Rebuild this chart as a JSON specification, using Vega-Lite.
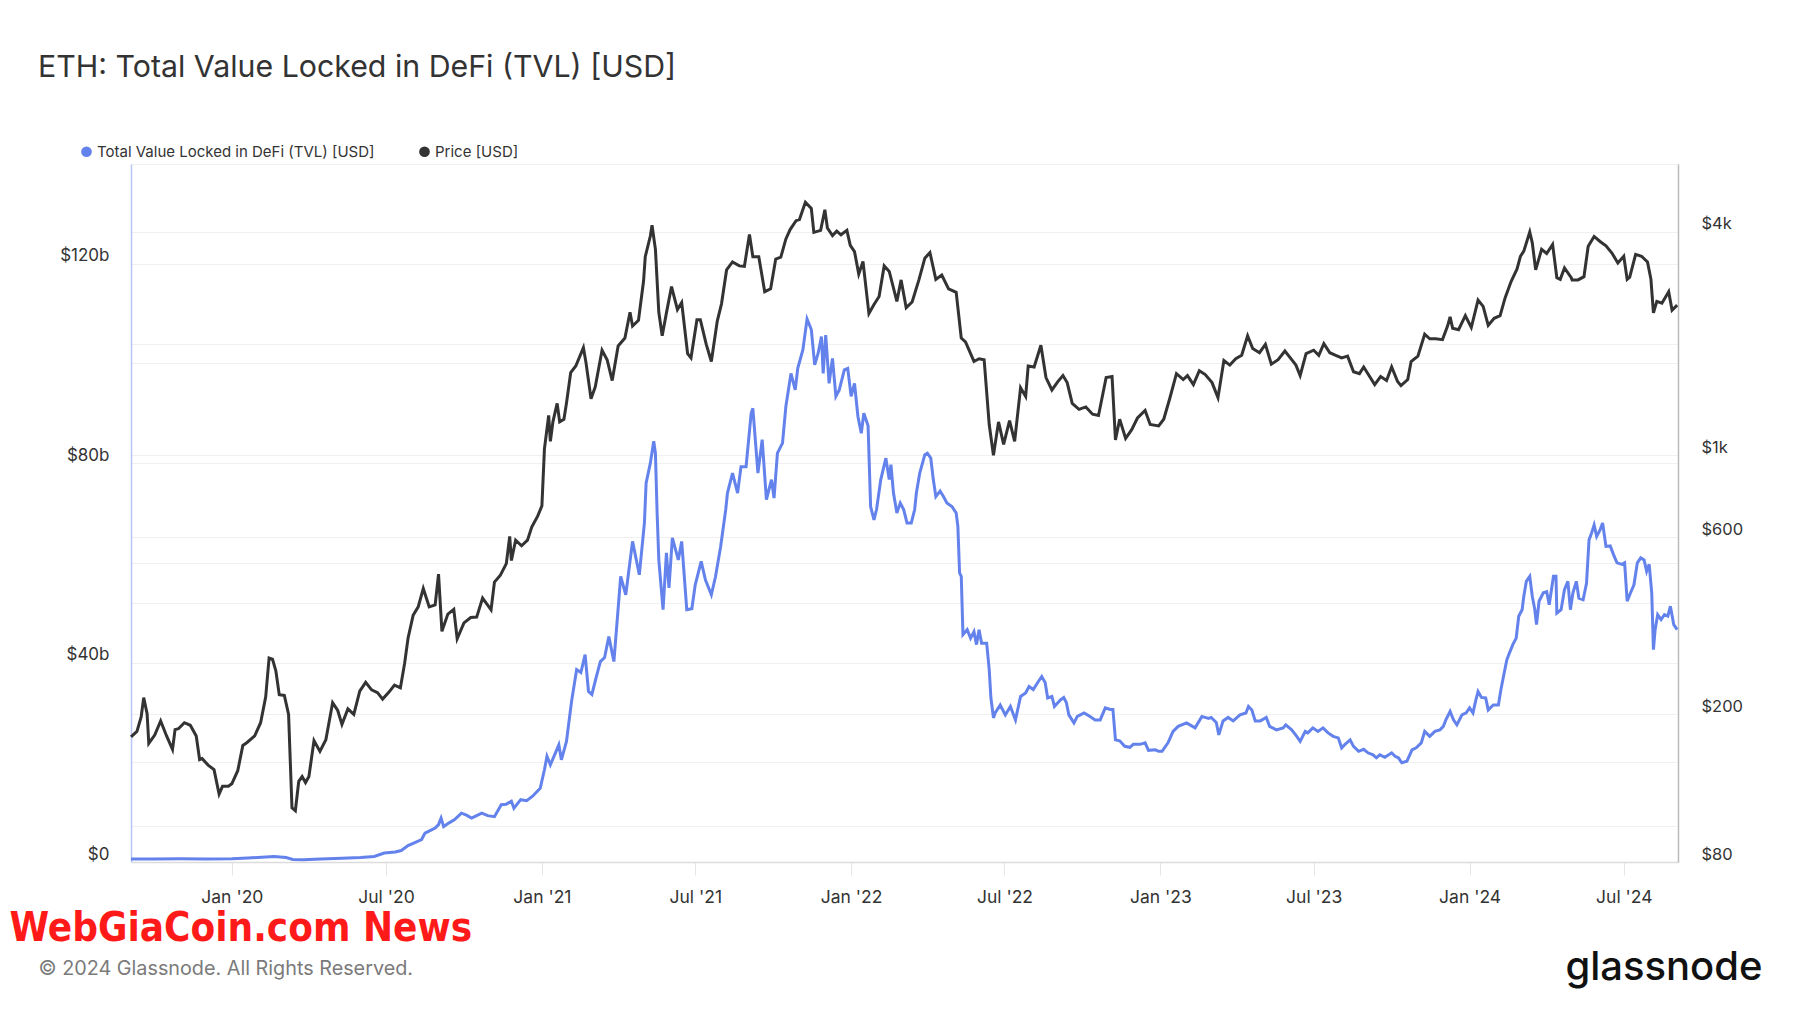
{
  "$schema": "https://vega.github.io/schema/vega-lite/v6.json",
  "width": 1547,
  "height": 698,
  "autosize": {"type": "none"},
  "padding": {"left": 131, "top": 164, "right": 122, "bottom": 151},
  "background": "white",
  "config": {"view": {"stroke": null}, "font": "Inter"},
  "title": {"text": "ETH: Total Value Locked in DeFi (TVL) [USD]", "anchor": "start", "frame": "group", "dx": -93, "offset": 61, "fontSize": 30.3, "font": "Inter", "fontWeight": "normal", "color": "#333333"},
  "datasets": {
    "tvl": [
      {"date":"2019-09-04","tvl":0.6},{"date":"2019-10-01","tvl":0.6},{"date":"2019-11-01","tvl":0.65},{"date":"2019-12-01","tvl":0.6},{"date":"2020-01-01","tvl":0.65},{"date":"2020-01-20","tvl":0.8},{"date":"2020-02-10","tvl":1.0},{"date":"2020-02-20","tvl":1.1},{"date":"2020-03-05","tvl":0.9},{"date":"2020-03-13","tvl":0.5},{"date":"2020-03-25","tvl":0.45},{"date":"2020-04-15","tvl":0.6},{"date":"2020-05-10","tvl":0.75},{"date":"2020-06-01","tvl":0.9},{"date":"2020-06-17","tvl":1.1},{"date":"2020-06-29","tvl":1.8},{"date":"2020-07-12","tvl":2.0},{"date":"2020-07-19","tvl":2.3},{"date":"2020-07-27","tvl":3.3},{"date":"2020-08-04","tvl":3.9},{"date":"2020-08-12","tvl":4.5},{"date":"2020-08-16","tvl":5.8},{"date":"2020-08-22","tvl":6.3},{"date":"2020-08-28","tvl":6.8},{"date":"2020-09-01","tvl":7.5},{"date":"2020-09-04","tvl":8.8},{"date":"2020-09-07","tvl":7.1},{"date":"2020-09-14","tvl":7.9},{"date":"2020-09-20","tvl":8.5},{"date":"2020-09-28","tvl":9.8},{"date":"2020-10-04","tvl":9.4},{"date":"2020-10-10","tvl":8.8},{"date":"2020-10-16","tvl":9.3},{"date":"2020-10-22","tvl":9.8},{"date":"2020-10-29","tvl":9.3},{"date":"2020-11-06","tvl":9.1},{"date":"2020-11-14","tvl":11.5},{"date":"2020-11-20","tvl":11.6},{"date":"2020-11-26","tvl":12.2},{"date":"2020-11-29","tvl":10.8},{"date":"2020-12-07","tvl":12.5},{"date":"2020-12-14","tvl":12.3},{"date":"2020-12-21","tvl":13.2},{"date":"2020-12-30","tvl":14.8},{"date":"2021-01-04","tvl":18.5},{"date":"2021-01-07","tvl":21.2},{"date":"2021-01-11","tvl":19.5},{"date":"2021-01-16","tvl":21.5},{"date":"2021-01-21","tvl":23.5},{"date":"2021-01-24","tvl":20.5},{"date":"2021-01-30","tvl":24.2},{"date":"2021-02-05","tvl":32.2},{"date":"2021-02-11","tvl":38.6},{"date":"2021-02-16","tvl":38.0},{"date":"2021-02-21","tvl":41.6},{"date":"2021-02-25","tvl":34.2},{"date":"2021-03-01","tvl":33.6},{"date":"2021-03-06","tvl":37},{"date":"2021-03-11","tvl":40.2},{"date":"2021-03-16","tvl":41},{"date":"2021-03-21","tvl":45.2},{"date":"2021-03-27","tvl":40.2},{"date":"2021-04-04","tvl":57.3},{"date":"2021-04-10","tvl":53.6},{"date":"2021-04-18","tvl":64.3},{"date":"2021-04-26","tvl":57.6},{"date":"2021-05-02","tvl":68},{"date":"2021-05-04","tvl":76},{"date":"2021-05-09","tvl":80},{"date":"2021-05-13","tvl":84.4},{"date":"2021-05-15","tvl":82},{"date":"2021-05-17","tvl":70},{"date":"2021-05-19","tvl":60.6},{"date":"2021-05-24","tvl":50.6},{"date":"2021-05-28","tvl":62},{"date":"2021-05-31","tvl":55},{"date":"2021-06-04","tvl":65},{"date":"2021-06-11","tvl":60.6},{"date":"2021-06-15","tvl":64.3},{"date":"2021-06-21","tvl":50.6},{"date":"2021-06-27","tvl":50.8},{"date":"2021-07-01","tvl":55.6},{"date":"2021-07-08","tvl":60.3},{"date":"2021-07-13","tvl":56.6},{"date":"2021-07-20","tvl":53.6},{"date":"2021-07-25","tvl":57.3},{"date":"2021-07-31","tvl":63.3},{"date":"2021-08-06","tvl":70.7},{"date":"2021-08-08","tvl":74},{"date":"2021-08-14","tvl":78},{"date":"2021-08-20","tvl":74},{"date":"2021-08-24","tvl":79.3},{"date":"2021-08-30","tvl":79.3},{"date":"2021-09-05","tvl":90},{"date":"2021-09-07","tvl":91},{"date":"2021-09-13","tvl":78},{"date":"2021-09-18","tvl":84.7},{"date":"2021-09-23","tvl":72.7},{"date":"2021-09-29","tvl":76.7},{"date":"2021-10-02","tvl":73},{"date":"2021-10-06","tvl":82},{"date":"2021-10-12","tvl":84},{"date":"2021-10-16","tvl":91.4},{"date":"2021-10-22","tvl":98},{"date":"2021-10-27","tvl":94.7},{"date":"2021-10-30","tvl":99},{"date":"2021-11-05","tvl":102.7},{"date":"2021-11-10","tvl":108.9},{"date":"2021-11-15","tvl":106.8},{"date":"2021-11-19","tvl":99.7},{"date":"2021-11-23","tvl":102},{"date":"2021-11-27","tvl":105.4},{"date":"2021-11-29","tvl":98},{"date":"2021-12-02","tvl":105.7},{"date":"2021-12-06","tvl":96},{"date":"2021-12-10","tvl":101},{"date":"2021-12-14","tvl":93.4},{"date":"2021-12-18","tvl":94.7},{"date":"2021-12-24","tvl":98.7},{"date":"2021-12-28","tvl":99},{"date":"2022-01-01","tvl":93.4},{"date":"2022-01-05","tvl":96},{"date":"2022-01-09","tvl":89.4},{"date":"2022-01-13","tvl":86},{"date":"2022-01-16","tvl":90},{"date":"2022-01-21","tvl":87.5},{"date":"2022-01-24","tvl":71.3},{"date":"2022-01-28","tvl":68.6},{"date":"2022-01-31","tvl":70.7},{"date":"2022-02-05","tvl":76.7},{"date":"2022-02-11","tvl":81},{"date":"2022-02-15","tvl":76.7},{"date":"2022-02-17","tvl":79.7},{"date":"2022-02-20","tvl":74},{"date":"2022-02-24","tvl":70},{"date":"2022-02-28","tvl":72},{"date":"2022-03-04","tvl":70.7},{"date":"2022-03-08","tvl":68},{"date":"2022-03-13","tvl":68},{"date":"2022-03-17","tvl":70.7},{"date":"2022-03-19","tvl":74},{"date":"2022-03-23","tvl":78},{"date":"2022-03-29","tvl":81.7},{"date":"2022-04-01","tvl":82},{"date":"2022-04-05","tvl":81},{"date":"2022-04-08","tvl":76.7},{"date":"2022-04-11","tvl":73.3},{"date":"2022-04-16","tvl":74.4},{"date":"2022-04-20","tvl":73.3},{"date":"2022-04-24","tvl":72},{"date":"2022-04-30","tvl":71.3},{"date":"2022-05-05","tvl":70},{"date":"2022-05-07","tvl":67.3},{"date":"2022-05-09","tvl":58},{"date":"2022-05-11","tvl":57.3},{"date":"2022-05-13","tvl":45.6},{"date":"2022-05-18","tvl":46.6},{"date":"2022-05-22","tvl":44.9},{"date":"2022-05-26","tvl":46.2},{"date":"2022-05-29","tvl":43.6},{"date":"2022-06-01","tvl":46.6},{"date":"2022-06-04","tvl":43.9},{"date":"2022-06-10","tvl":43.9},{"date":"2022-06-13","tvl":38.6},{"date":"2022-06-15","tvl":32.9},{"date":"2022-06-18","tvl":28.9},{"date":"2022-06-20","tvl":29.9},{"date":"2022-06-26","tvl":31.5},{"date":"2022-07-02","tvl":29.5},{"date":"2022-07-08","tvl":31.2},{"date":"2022-07-14","tvl":28.5},{"date":"2022-07-20","tvl":33.2},{"date":"2022-07-26","tvl":33.9},{"date":"2022-07-30","tvl":35.2},{"date":"2022-08-04","tvl":34.6},{"date":"2022-08-10","tvl":36.2},{"date":"2022-08-14","tvl":37.2},{"date":"2022-08-18","tvl":36},{"date":"2022-08-21","tvl":32.9},{"date":"2022-08-26","tvl":33.2},{"date":"2022-08-29","tvl":31.2},{"date":"2022-09-05","tvl":32.5},{"date":"2022-09-09","tvl":33},{"date":"2022-09-12","tvl":32},{"date":"2022-09-15","tvl":29.5},{"date":"2022-09-21","tvl":27.9},{"date":"2022-09-25","tvl":29.2},{"date":"2022-10-03","tvl":29.9},{"date":"2022-10-10","tvl":29.2},{"date":"2022-10-16","tvl":28.5},{"date":"2022-10-22","tvl":28.5},{"date":"2022-10-28","tvl":30.9},{"date":"2022-11-03","tvl":30.6},{"date":"2022-11-06","tvl":30.6},{"date":"2022-11-09","tvl":24.5},{"date":"2022-11-14","tvl":24.3},{"date":"2022-11-20","tvl":23.2},{"date":"2022-11-26","tvl":23},{"date":"2022-11-30","tvl":23.6},{"date":"2022-12-08","tvl":23.6},{"date":"2022-12-14","tvl":23.9},{"date":"2022-12-18","tvl":22.4},{"date":"2022-12-26","tvl":22.5},{"date":"2022-12-30","tvl":22.2},{"date":"2023-01-03","tvl":22.2},{"date":"2023-01-10","tvl":23.9},{"date":"2023-01-16","tvl":26.2},{"date":"2023-01-22","tvl":27.2},{"date":"2023-02-01","tvl":27.9},{"date":"2023-02-11","tvl":26.9},{"date":"2023-02-19","tvl":29.2},{"date":"2023-02-27","tvl":28.8},{"date":"2023-03-02","tvl":29},{"date":"2023-03-08","tvl":28},{"date":"2023-03-11","tvl":25.5},{"date":"2023-03-16","tvl":28.3},{"date":"2023-03-22","tvl":29},{"date":"2023-03-28","tvl":28.3},{"date":"2023-04-05","tvl":29.5},{"date":"2023-04-12","tvl":29.9},{"date":"2023-04-15","tvl":31.2},{"date":"2023-04-19","tvl":30.5},{"date":"2023-04-23","tvl":28.3},{"date":"2023-04-29","tvl":28.3},{"date":"2023-05-06","tvl":29},{"date":"2023-05-10","tvl":27.2},{"date":"2023-05-18","tvl":26.5},{"date":"2023-05-26","tvl":26.9},{"date":"2023-05-29","tvl":27.5},{"date":"2023-06-05","tvl":26.5},{"date":"2023-06-11","tvl":25.2},{"date":"2023-06-15","tvl":24.2},{"date":"2023-06-21","tvl":26.2},{"date":"2023-06-24","tvl":25.9},{"date":"2023-06-30","tvl":26.9},{"date":"2023-07-06","tvl":26.2},{"date":"2023-07-12","tvl":26.9},{"date":"2023-07-18","tvl":25.9},{"date":"2023-07-24","tvl":25.2},{"date":"2023-07-30","tvl":24.9},{"date":"2023-08-03","tvl":22.9},{"date":"2023-08-07","tvl":23.6},{"date":"2023-08-13","tvl":24.5},{"date":"2023-08-17","tvl":23.2},{"date":"2023-08-23","tvl":22.2},{"date":"2023-08-29","tvl":22.6},{"date":"2023-09-03","tvl":21.9},{"date":"2023-09-09","tvl":21.5},{"date":"2023-09-13","tvl":20.9},{"date":"2023-09-17","tvl":21.5},{"date":"2023-09-23","tvl":21},{"date":"2023-10-01","tvl":21.9},{"date":"2023-10-05","tvl":21.2},{"date":"2023-10-09","tvl":20.9},{"date":"2023-10-13","tvl":19.9},{"date":"2023-10-19","tvl":20.2},{"date":"2023-10-25","tvl":22.5},{"date":"2023-10-30","tvl":22.9},{"date":"2023-11-05","tvl":23.9},{"date":"2023-11-09","tvl":26.2},{"date":"2023-11-15","tvl":25.2},{"date":"2023-11-21","tvl":26.2},{"date":"2023-11-27","tvl":26.5},{"date":"2023-12-01","tvl":27.2},{"date":"2023-12-04","tvl":28.5},{"date":"2023-12-09","tvl":30.2},{"date":"2023-12-13","tvl":28.5},{"date":"2023-12-17","tvl":27.5},{"date":"2023-12-23","tvl":29.5},{"date":"2023-12-28","tvl":29.9},{"date":"2024-01-01","tvl":30.9},{"date":"2024-01-05","tvl":29.9},{"date":"2024-01-08","tvl":32.2},{"date":"2024-01-11","tvl":34.2},{"date":"2024-01-15","tvl":33},{"date":"2024-01-20","tvl":32.9},{"date":"2024-01-23","tvl":30.5},{"date":"2024-01-29","tvl":31.5},{"date":"2024-02-04","tvl":31.5},{"date":"2024-02-07","tvl":34.6},{"date":"2024-02-10","tvl":37.2},{"date":"2024-02-14","tvl":40.6},{"date":"2024-02-17","tvl":41.9},{"date":"2024-02-21","tvl":43.6},{"date":"2024-02-25","tvl":44.9},{"date":"2024-02-28","tvl":49.3},{"date":"2024-03-03","tvl":50.6},{"date":"2024-03-05","tvl":53.3},{"date":"2024-03-08","tvl":56.3},{"date":"2024-03-12","tvl":57.3},{"date":"2024-03-15","tvl":53.3},{"date":"2024-03-18","tvl":50.6},{"date":"2024-03-20","tvl":47.6},{"date":"2024-03-23","tvl":52.3},{"date":"2024-03-28","tvl":54},{"date":"2024-04-01","tvl":54.2},{"date":"2024-04-04","tvl":51.6},{"date":"2024-04-09","tvl":57.3},{"date":"2024-04-12","tvl":57.3},{"date":"2024-04-13","tvl":49.9},{"date":"2024-04-18","tvl":50.6},{"date":"2024-04-22","tvl":54.6},{"date":"2024-04-26","tvl":56.3},{"date":"2024-04-29","tvl":50.6},{"date":"2024-05-02","tvl":54},{"date":"2024-05-06","tvl":56.3},{"date":"2024-05-09","tvl":52.9},{"date":"2024-05-14","tvl":52.6},{"date":"2024-05-18","tvl":55.9},{"date":"2024-05-21","tvl":64.6},{"date":"2024-05-24","tvl":66},{"date":"2024-05-27","tvl":67.6},{"date":"2024-05-30","tvl":65.3},{"date":"2024-06-03","tvl":66.6},{"date":"2024-06-06","tvl":68},{"date":"2024-06-10","tvl":63.3},{"date":"2024-06-15","tvl":63.4},{"date":"2024-06-19","tvl":61.6},{"date":"2024-06-23","tvl":60},{"date":"2024-06-29","tvl":59.7},{"date":"2024-07-02","tvl":60},{"date":"2024-07-05","tvl":52.3},{"date":"2024-07-09","tvl":54},{"date":"2024-07-13","tvl":55.6},{"date":"2024-07-17","tvl":60},{"date":"2024-07-21","tvl":61},{"date":"2024-07-25","tvl":60.6},{"date":"2024-07-28","tvl":58.3},{"date":"2024-07-31","tvl":59.7},{"date":"2024-08-03","tvl":54},{"date":"2024-08-05","tvl":42.6},{"date":"2024-08-07","tvl":46.6},{"date":"2024-08-10","tvl":49.6},{"date":"2024-08-14","tvl":48.6},{"date":"2024-08-18","tvl":49.6},{"date":"2024-08-22","tvl":49.3},{"date":"2024-08-25","tvl":51.3},{"date":"2024-08-29","tvl":47.6},{"date":"2024-09-02","tvl":46.6}
    ],
    "price": [
      {"date":"2019-09-04","price":174},{"date":"2019-09-11","price":180},{"date":"2019-09-16","price":197},{"date":"2019-09-19","price":222},{"date":"2019-09-23","price":201},{"date":"2019-09-25","price":167},{"date":"2019-10-02","price":176},{"date":"2019-10-09","price":192},{"date":"2019-10-16","price":175},{"date":"2019-10-23","price":161},{"date":"2019-10-26","price":182},{"date":"2019-10-30","price":183},{"date":"2019-11-06","price":190},{"date":"2019-11-13","price":187},{"date":"2019-11-20","price":175},{"date":"2019-11-24","price":151},{"date":"2019-11-27","price":152},{"date":"2019-12-04","price":146},{"date":"2019-12-11","price":142},{"date":"2019-12-17","price":122},{"date":"2019-12-21","price":128},{"date":"2019-12-28","price":128},{"date":"2020-01-01","price":130},{"date":"2020-01-08","price":141},{"date":"2020-01-14","price":165},{"date":"2020-01-19","price":168},{"date":"2020-01-28","price":175},{"date":"2020-02-04","price":190},{"date":"2020-02-10","price":223},{"date":"2020-02-14","price":284},{"date":"2020-02-18","price":282},{"date":"2020-02-22","price":262},{"date":"2020-02-26","price":226},{"date":"2020-03-03","price":225},{"date":"2020-03-08","price":200},{"date":"2020-03-12","price":112},{"date":"2020-03-16","price":110},{"date":"2020-03-20","price":132},{"date":"2020-03-24","price":136},{"date":"2020-03-28","price":131},{"date":"2020-04-01","price":136},{"date":"2020-04-07","price":170},{"date":"2020-04-14","price":159},{"date":"2020-04-21","price":171},{"date":"2020-04-29","price":215},{"date":"2020-05-05","price":205},{"date":"2020-05-10","price":188},{"date":"2020-05-17","price":207},{"date":"2020-05-24","price":200},{"date":"2020-05-31","price":231},{"date":"2020-06-07","price":244},{"date":"2020-06-14","price":233},{"date":"2020-06-21","price":229},{"date":"2020-06-27","price":220},{"date":"2020-07-04","price":229},{"date":"2020-07-11","price":240},{"date":"2020-07-18","price":236},{"date":"2020-07-23","price":275},{"date":"2020-07-27","price":321},{"date":"2020-08-02","price":370},{"date":"2020-08-08","price":390},{"date":"2020-08-14","price":437},{"date":"2020-08-21","price":390},{"date":"2020-08-28","price":395},{"date":"2020-09-01","price":478},{"date":"2020-09-05","price":335},{"date":"2020-09-12","price":373},{"date":"2020-09-19","price":384},{"date":"2020-09-23","price":320},{"date":"2020-10-01","price":353},{"date":"2020-10-09","price":365},{"date":"2020-10-16","price":366},{"date":"2020-10-23","price":412},{"date":"2020-11-02","price":383},{"date":"2020-11-06","price":455},{"date":"2020-11-13","price":475},{"date":"2020-11-20","price":510},{"date":"2020-11-24","price":604},{"date":"2020-11-26","price":520},{"date":"2020-12-01","price":590},{"date":"2020-12-08","price":570},{"date":"2020-12-15","price":590},{"date":"2020-12-20","price":640},{"date":"2020-12-27","price":685},{"date":"2021-01-01","price":730},{"date":"2021-01-04","price":1040},{"date":"2021-01-09","price":1280},{"date":"2021-01-11","price":1090},{"date":"2021-01-14","price":1230},{"date":"2021-01-19","price":1380},{"date":"2021-01-22","price":1230},{"date":"2021-01-27","price":1250},{"date":"2021-01-30","price":1380},{"date":"2021-02-04","price":1670},{"date":"2021-02-10","price":1740},{"date":"2021-02-19","price":1950},{"date":"2021-02-22","price":1780},{"date":"2021-02-28","price":1420},{"date":"2021-03-05","price":1530},{"date":"2021-03-13","price":1920},{"date":"2021-03-19","price":1810},{"date":"2021-03-25","price":1590},{"date":"2021-04-01","price":1970},{"date":"2021-04-09","price":2070},{"date":"2021-04-15","price":2430},{"date":"2021-04-18","price":2230},{"date":"2021-04-25","price":2310},{"date":"2021-05-01","price":2950},{"date":"2021-05-03","price":3430},{"date":"2021-05-09","price":3900},{"date":"2021-05-11","price":4170},{"date":"2021-05-15","price":3590},{"date":"2021-05-19","price":2430},{"date":"2021-05-23","price":2100},{"date":"2021-05-28","price":2420},{"date":"2021-06-03","price":2850},{"date":"2021-06-10","price":2470},{"date":"2021-06-15","price":2580},{"date":"2021-06-22","price":1880},{"date":"2021-06-26","price":1830},{"date":"2021-07-03","price":2320},{"date":"2021-07-07","price":2320},{"date":"2021-07-14","price":1990},{"date":"2021-07-20","price":1790},{"date":"2021-07-27","price":2300},{"date":"2021-08-01","price":2560},{"date":"2021-08-07","price":3160},{"date":"2021-08-14","price":3320},{"date":"2021-08-22","price":3240},{"date":"2021-08-28","price":3230},{"date":"2021-09-03","price":3940},{"date":"2021-09-07","price":3430},{"date":"2021-09-14","price":3430},{"date":"2021-09-21","price":2760},{"date":"2021-09-28","price":2810},{"date":"2021-10-04","price":3380},{"date":"2021-10-10","price":3420},{"date":"2021-10-16","price":3830},{"date":"2021-10-21","price":4060},{"date":"2021-10-28","price":4290},{"date":"2021-11-01","price":4320},{"date":"2021-11-08","price":4810},{"date":"2021-11-15","price":4630},{"date":"2021-11-18","price":3990},{"date":"2021-11-26","price":4040},{"date":"2021-12-01","price":4590},{"date":"2021-12-04","price":4100},{"date":"2021-12-10","price":3910},{"date":"2021-12-15","price":4020},{"date":"2021-12-20","price":3930},{"date":"2021-12-27","price":4040},{"date":"2021-12-31","price":3680},{"date":"2022-01-05","price":3540},{"date":"2022-01-10","price":3080},{"date":"2022-01-15","price":3330},{"date":"2022-01-22","price":2410},{"date":"2022-01-28","price":2550},{"date":"2022-02-03","price":2680},{"date":"2022-02-09","price":3240},{"date":"2022-02-15","price":3130},{"date":"2022-02-24","price":2600},{"date":"2022-03-01","price":2970},{"date":"2022-03-07","price":2500},{"date":"2022-03-14","price":2590},{"date":"2022-03-22","price":2970},{"date":"2022-03-29","price":3400},{"date":"2022-04-04","price":3520},{"date":"2022-04-11","price":2980},{"date":"2022-04-18","price":3060},{"date":"2022-04-26","price":2810},{"date":"2022-05-05","price":2750},{"date":"2022-05-11","price":2070},{"date":"2022-05-16","price":2020},{"date":"2022-05-26","price":1790},{"date":"2022-06-01","price":1820},{"date":"2022-06-07","price":1810},{"date":"2022-06-13","price":1210},{"date":"2022-06-18","price":1000},{"date":"2022-06-24","price":1230},{"date":"2022-06-30","price":1070},{"date":"2022-07-07","price":1240},{"date":"2022-07-13","price":1090},{"date":"2022-07-20","price":1520},{"date":"2022-07-26","price":1440},{"date":"2022-07-29","price":1740},{"date":"2022-08-05","price":1730},{"date":"2022-08-13","price":1980},{"date":"2022-08-19","price":1620},{"date":"2022-08-26","price":1500},{"date":"2022-09-02","price":1580},{"date":"2022-09-08","price":1640},{"date":"2022-09-13","price":1570},{"date":"2022-09-19","price":1380},{"date":"2022-09-27","price":1330},{"date":"2022-10-05","price":1350},{"date":"2022-10-13","price":1290},{"date":"2022-10-20","price":1280},{"date":"2022-10-29","price":1620},{"date":"2022-11-05","price":1630},{"date":"2022-11-09","price":1100},{"date":"2022-11-14","price":1250},{"date":"2022-11-21","price":1110},{"date":"2022-11-28","price":1170},{"date":"2022-12-05","price":1260},{"date":"2022-12-14","price":1320},{"date":"2022-12-20","price":1210},{"date":"2022-12-30","price":1200},{"date":"2023-01-05","price":1250},{"date":"2023-01-12","price":1420},{"date":"2023-01-20","price":1660},{"date":"2023-01-28","price":1600},{"date":"2023-02-02","price":1640},{"date":"2023-02-09","price":1550},{"date":"2023-02-16","price":1690},{"date":"2023-02-23","price":1650},{"date":"2023-03-03","price":1570},{"date":"2023-03-10","price":1430},{"date":"2023-03-17","price":1800},{"date":"2023-03-24","price":1750},{"date":"2023-03-31","price":1820},{"date":"2023-04-07","price":1860},{"date":"2023-04-14","price":2100},{"date":"2023-04-20","price":1940},{"date":"2023-04-28","price":1890},{"date":"2023-05-05","price":1990},{"date":"2023-05-12","price":1760},{"date":"2023-05-20","price":1810},{"date":"2023-05-28","price":1910},{"date":"2023-06-05","price":1810},{"date":"2023-06-10","price":1750},{"date":"2023-06-15","price":1640},{"date":"2023-06-22","price":1880},{"date":"2023-07-01","price":1920},{"date":"2023-07-07","price":1860},{"date":"2023-07-13","price":2000},{"date":"2023-07-20","price":1890},{"date":"2023-07-27","price":1860},{"date":"2023-08-03","price":1830},{"date":"2023-08-10","price":1850},{"date":"2023-08-17","price":1680},{"date":"2023-08-24","price":1660},{"date":"2023-08-29","price":1730},{"date":"2023-09-05","price":1630},{"date":"2023-09-11","price":1550},{"date":"2023-09-18","price":1630},{"date":"2023-09-25","price":1590},{"date":"2023-10-01","price":1730},{"date":"2023-10-08","price":1580},{"date":"2023-10-12","price":1540},{"date":"2023-10-20","price":1600},{"date":"2023-10-24","price":1790},{"date":"2023-11-01","price":1850},{"date":"2023-11-09","price":2120},{"date":"2023-11-15","price":2060},{"date":"2023-11-22","price":2060},{"date":"2023-11-30","price":2050},{"date":"2023-12-06","price":2230},{"date":"2023-12-09","price":2360},{"date":"2023-12-12","price":2200},{"date":"2023-12-19","price":2180},{"date":"2023-12-27","price":2380},{"date":"2024-01-03","price":2210},{"date":"2024-01-11","price":2620},{"date":"2024-01-17","price":2520},{"date":"2024-01-23","price":2240},{"date":"2024-01-30","price":2340},{"date":"2024-02-06","price":2380},{"date":"2024-02-12","price":2660},{"date":"2024-02-19","price":2940},{"date":"2024-02-26","price":3180},{"date":"2024-03-01","price":3440},{"date":"2024-03-05","price":3550},{"date":"2024-03-12","price":4000},{"date":"2024-03-15","price":3740},{"date":"2024-03-19","price":3160},{"date":"2024-03-26","price":3590},{"date":"2024-04-01","price":3500},{"date":"2024-04-08","price":3700},{"date":"2024-04-13","price":3010},{"date":"2024-04-17","price":2980},{"date":"2024-04-22","price":3200},{"date":"2024-04-30","price":3010},{"date":"2024-05-01","price":2970},{"date":"2024-05-08","price":2970},{"date":"2024-05-15","price":3030},{"date":"2024-05-20","price":3660},{"date":"2024-05-27","price":3890},{"date":"2024-06-03","price":3770},{"date":"2024-06-10","price":3670},{"date":"2024-06-17","price":3510},{"date":"2024-06-24","price":3300},{"date":"2024-07-01","price":3440},{"date":"2024-07-05","price":2980},{"date":"2024-07-08","price":3020},{"date":"2024-07-15","price":3480},{"date":"2024-07-22","price":3440},{"date":"2024-07-29","price":3320},{"date":"2024-08-02","price":2990},{"date":"2024-08-05","price":2420},{"date":"2024-08-09","price":2600},{"date":"2024-08-15","price":2570},{"date":"2024-08-23","price":2760},{"date":"2024-08-27","price":2460},{"date":"2024-09-02","price":2540}
    ]
  },
  "layer": [
    {
      "data": {"name": "price"},
      "mark": {"type": "line", "strokeWidth": 3, "interpolate": "linear"},
      "encoding": {
        "x": {"field": "date", "type": "temporal", "scale": {"domain": [{"year": 2019, "month": 9, "date": 4}, {"year": 2024, "month": 9, "date": 3}]},
          "axis": {"values": [{"year":2020,"month":1,"date":1},{"year":2020,"month":7,"date":1},{"year":2021,"month":1,"date":1},{"year":2021,"month":7,"date":1},{"year":2022,"month":1,"date":1},{"year":2022,"month":7,"date":1},{"year":2023,"month":1,"date":1},{"year":2023,"month":7,"date":1},{"year":2024,"month":1,"date":1},{"year":2024,"month":7,"date":1}],
            "format": "%b '%y", "grid": false, "tickSize": 13, "tickColor": "#e6e6e6", "domainColor": "#dcdcdc", "domainWidth": 1.5, "labelFontSize": 17.5, "labelFont": "Inter", "labelColor": "#333333", "labelPadding": 13,
            "title": "© 2024 Glassnode. All Rights Reserved.", "titleX": -93, "titleY": 106, "titleAlign": "left", "titleAnchor": null, "titleBaseline": "middle", "titleFontSize": 19.8, "titleFont": "Inter", "titleFontWeight": "normal", "titleColor": "#7a7a7a"}},
        "y": {"field": "price", "type": "quantitative", "scale": {"type": "log", "domain": [80, 6100]},
          "axis": {"orient": "right", "values": [80, 100, 200, 400, 600, 1000, 2000, 4000],
            "labelExpr": "datum.value == 80 ? '$80' : datum.value == 200 ? '$200' : datum.value == 600 ? '$600' : datum.value == 1000 ? '$1k' : datum.value == 4000 ? '$4k' : ''",
            "grid": true, "gridColor": "#f0f0f0", "ticks": false, "domainColor": "#bbbbbb", "domainWidth": 1.5, "labelFontSize": 16.5, "labelFont": "Inter", "labelColor": "#333333", "labelPadding": 23, "labelOffset": -8,
            "title": "glassnode", "titleAngle": 0, "titleX": 84, "titleY": 803, "titleAlign": "right", "titleBaseline": "middle", "titleFontSize": 40, "titleFont": "Inter", "titleFontWeight": 500, "titleColor": "#111111"}},
        "color": {"datum": "Price [USD]", "type": "nominal"}
      }
    },
    {
      "data": {"name": "tvl"},
      "mark": {"type": "line", "strokeWidth": 3, "interpolate": "linear"},
      "encoding": {
        "x": {"field": "date", "type": "temporal"},
        "y": {"field": "tvl", "type": "quantitative", "scale": {"domain": [0, 140]},
          "axis": {"orient": "left", "values": [0, 20, 40, 60, 80, 100, 120, 140],
            "labelExpr": "datum.value == 0 ? '$0' : (datum.value % 40 == 0 ? '$' + datum.value + 'b' : '')",
            "grid": true, "gridColor": "#f0f0f0", "ticks": false, "domainColor": "#b8c5f5", "domainWidth": 1.5, "labelFontSize": 17, "labelFont": "Inter", "labelColor": "#333333", "labelPadding": 22, "labelOffset": -8,
            "title": "WebGiaCoin.com News", "titleAngle": 0, "titleX": -122, "titleY": 764, "titleAlign": "left", "titleBaseline": "middle", "titleFontSize": 40, "titleFont": "DejaVu Sans Condensed", "titleFontWeight": "bold", "titleColor": "#ff1a1a"}},
        "color": {"datum": "Total Value Locked in DeFi (TVL) [USD]", "type": "nominal",
          "scale": {"domain": ["Total Value Locked in DeFi (TVL) [USD]", "Price [USD]"], "range": ["#6482ec", "#333333"]},
          "legend": {"orient": "none", "legendX": -52, "legendY": -20, "direction": "horizontal", "title": null, "padding": 0, "labelLimit": 0,
            "symbolType": "circle", "symbolSize": 115, "labelFontSize": 15, "labelFont": "Inter", "labelColor": "#333333", "columnPadding": 42, "labelOffset": 3,
            "encode": {"symbols": {"update": {"fill": {"scale": "color", "field": "value"}, "strokeWidth": {"value": 0}, "opacity": {"value": 1}}}}}}
      }
    }
  ],
  "resolve": {"scale": {"y": "independent"}}
}
